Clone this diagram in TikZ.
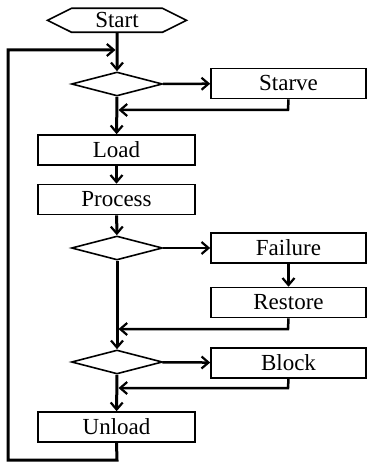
\documentclass[tikz,border=0pt]{standalone}
\usepackage{fontspec}
\setmainfont{Liberation Serif}
\usetikzlibrary{shapes.geometric,shapes.symbols,arrows.meta}
\begin{document}
\begin{tikzpicture}[x=1pt,y=-1pt]
	\tikzset{
		box/.style={draw,line width=1.6pt,minimum width=157pt,minimum height=30pt,inner sep=0pt,font=\fontsize{23}{27}\selectfont},
		side box/.style={box,minimum width=155pt},
		choice/.style={draw,diamond,line width=1.6pt,minimum width=91pt,minimum height=24pt,inner sep=0pt},
		flow/.style={line width=3pt,-{Straight Barb[length=7pt,width=12pt,line width=2.2pt]}},
		back/.style={line width=2.5pt,-{Straight Barb[length=7pt,width=12pt,line width=2.2pt]}}
	}
	\useasboundingbox (0,0) rectangle (367,462);
	\node[draw,signal,signal to=west and east,signal pointer angle=53,minimum width=139pt,minimum height=24pt,inner sep=0pt,line width=1.6pt,font=\fontsize{23}{27}\selectfont] (start) at (117,20.3) {Start};
	\foreach \n/\y in {check/84,fail check/248,block check/362}{
		\node[choice] (\n) at (117,\y) {};
	}
	\foreach \n/\y/\text in {load/150/Load,process/199.5/Process,unload/427/Unload}{
		\node[box] (\n) at (116.5,\y) {\text};
	}
	\foreach \n/\y/\text in {starve/83.5/Starve,failure/248/Failure,restore/302.5/Restore,block/363/Block}{
		\node[side box] (\n) at (288.5,\y) {\text};
	}
	\path
	(288,110) coordinate (starve turn)
	(118.5,110) coordinate (starve join)
	(288,329) coordinate (restore turn)
	(118.5,329) coordinate (restore join)
	(288,388) coordinate (block turn)
	(118.5,388) coordinate (block join)
	(117,460) coordinate (loop br)
	(8,460) coordinate (loop bl)
	(8,50) coordinate (loop tl)
	(115.5,50) coordinate (loop join);
	% main line
	\draw[flow] (start) -- (check);
	\draw[flow] (check) -- (load);
	\draw[flow] (load) -- (process);
	\draw[flow] (process) -- (fail check);
	\draw[flow] (fail check) -- (block check);
	\draw[flow] (block check) -- (unload);
	% side branches
	\draw[back] (check) -- (starve);
	\draw[back] (fail check) -- (failure);
	\draw[back] (failure) -- (restore);
	\draw[back] (block check) -- (block);
	\draw[back] (starve.south) -- (starve turn) -- (starve join);
	\draw[back] (restore.south) -- (restore turn) -- (restore join);
	\draw[back] (block.south) -- (block turn) -- (block join);
	% loop back
	\draw[flow,line join=miter] (unload.south) -- (loop br) -- (loop bl) -- (loop tl) -- (loop join);
\end{tikzpicture}
\end{document}
